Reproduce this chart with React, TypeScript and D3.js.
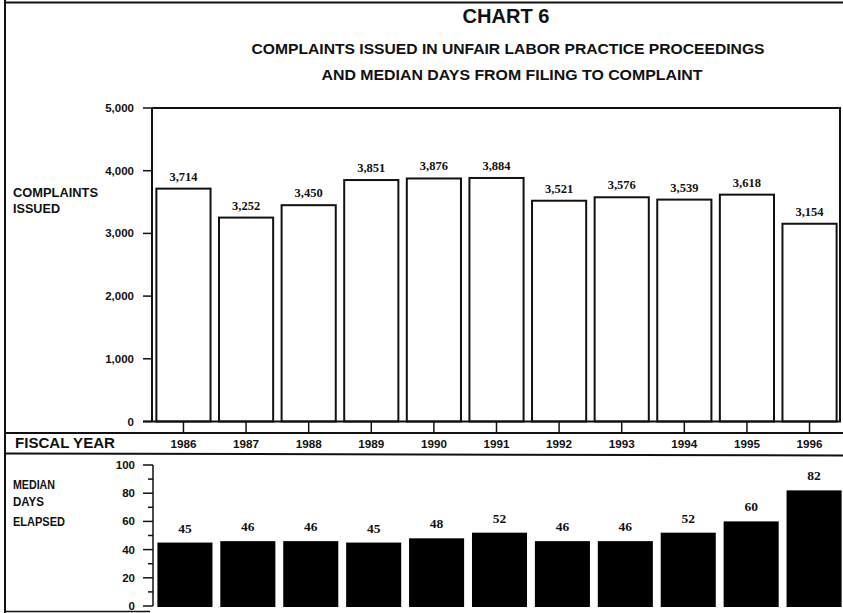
import React from "react";
import * as d3 from "d3";

const years = ["1986", "1987", "1988", "1989", "1990", "1991", "1992", "1993", "1994", "1995", "1996"];
const complaints = [3714, 3252, 3450, 3851, 3876, 3884, 3521, 3576, 3539, 3618, 3154];
const medianDays = [45, 46, 46, 45, 48, 52, 46, 46, 52, 60, 82];
const topTicks = [0, 1000, 2000, 3000, 4000, 5000];
const bottomTicks = [0, 20, 40, 60, 80, 100];
const bottomMinor = [10, 30, 50, 70, 90];

const W = 843;
const H = 613;
const SANS = "'Liberation Sans', Arial, sans-serif";
const SERIF = "'Liberation Serif', 'Times New Roman', serif";

export default function App() {
  const xTop = d3.scaleBand<string>().domain(years).range([152, 841]).paddingInner(0.135).paddingOuter(0.07);
  const yTop = d3.scaleLinear().domain([0, 5000]).range([421.5, 108]);
  const xBot = d3.scaleBand<string>().domain(years).range([153, 846]).paddingInner(0.125).paddingOuter(0.07);
  const yBot = d3.scaleLinear().domain([0, 100]).range([606, 465]);
  const fmt = d3.format(",");

  return (
    <div style={{ position: "absolute", left: 0, top: 0 }}>
      <svg width={W} height={H} style={{ display: "block", background: "#fff" }}>
        {/* outer frame lines */}
        <line x1={5} x2={W} y1={2.5} y2={2.5} stroke="#111" strokeWidth={2} />
        <line x1={5} x2={5} y1={0} y2={H} stroke="#111" strokeWidth={2} />

        {/* titles */}
        <text x={506} y={23} textAnchor="middle" fontFamily={SANS} fontWeight="bold" fontSize={20} fill="#111"
          textLength={87} lengthAdjust="spacingAndGlyphs">CHART 6</text>
        <text x={508} y={54} textAnchor="middle" fontFamily={SANS} fontWeight="bold" fontSize={15} fill="#111"
          textLength={513} lengthAdjust="spacingAndGlyphs">COMPLAINTS ISSUED IN UNFAIR LABOR PRACTICE PROCEEDINGS</text>
        <text x={512} y={80} textAnchor="middle" fontFamily={SANS} fontWeight="bold" fontSize={15} fill="#111"
          textLength={381} lengthAdjust="spacingAndGlyphs">AND MEDIAN DAYS FROM FILING TO COMPLAINT</text>

        {/* top panel */}
        <text x={13} y={197} fontFamily={SANS} fontWeight="bold" fontSize={12} fill="#111" textLength={85} lengthAdjust="spacingAndGlyphs">COMPLAINTS</text>
        <text x={13} y={213} fontFamily={SANS} fontWeight="bold" fontSize={12} fill="#111" textLength={47} lengthAdjust="spacingAndGlyphs">ISSUED</text>

        {complaints.map((v, i) => (
          <rect key={"tb" + i} x={xTop(years[i])} y={yTop(v)} width={xTop.bandwidth()} height={yTop(0) - yTop(v)}
            fill="#fff" stroke="#111" strokeWidth={2} />
        ))}
        {complaints.map((v, i) => (
          <text key={"tl" + i} x={(xTop(years[i]) as number) + xTop.bandwidth() / 2} y={yTop(v) - 8}
            textAnchor="middle" fontFamily={SERIF} fontWeight="bold" fontSize={12.5} fill="#111">{fmt(v)}</text>
        ))}

        {/* top frame */}
        <line x1={152} x2={841} y1={108} y2={108} stroke="#111" strokeWidth={2} />
        <line x1={840} x2={840} y1={108} y2={422} stroke="#111" strokeWidth={2} />
        <line x1={152} x2={152} y1={108} y2={422} stroke="#111" strokeWidth={2} />
        <line x1={143} x2={841} y1={yTop(0)} y2={yTop(0)} stroke="#111" strokeWidth={2} />
        {topTicks.map((t) => (
          <g key={"tt" + t}>
            <line x1={143} x2={152} y1={yTop(t)} y2={yTop(t)} stroke="#111" strokeWidth={1.5} />
            <text x={134} y={yTop(t) + 4} textAnchor="end" fontFamily={SANS} fontWeight="bold" fontSize={11.5} fill="#111">{fmt(t)}</text>
          </g>
        ))}

        {/* category ticks & fiscal year band */}
        {years.map((y) => (
          <line key={"ct" + y} x1={(xTop(y) as number) + xTop.bandwidth() / 2} x2={(xTop(y) as number) + xTop.bandwidth() / 2}
            y1={421.5} y2={433} stroke="#111" strokeWidth={1.5} />
        ))}
        <line x1={5} x2={W} y1={433} y2={433} stroke="#111" strokeWidth={2} />
        <text x={15} y={448} fontFamily={SANS} fontWeight="bold" fontSize={15} fill="#111" textLength={100} lengthAdjust="spacingAndGlyphs">FISCAL YEAR</text>
        {years.map((y) => (
          <text key={"yl" + y} x={(xTop(y) as number) + xTop.bandwidth() / 2} y={448} textAnchor="middle"
            fontFamily={SANS} fontWeight="bold" fontSize={11} fill="#111" textLength={26} lengthAdjust="spacingAndGlyphs">{y}</text>
        ))}
        <line x1={5} x2={W} y1={453.5} y2={455.5} stroke="#111" strokeWidth={2} />

        {/* bottom panel */}
        <text x={13} y={489} fontFamily={SANS} fontWeight="bold" fontSize={12} fill="#111" textLength={42} lengthAdjust="spacingAndGlyphs">MEDIAN</text>
        <text x={13} y={506} fontFamily={SANS} fontWeight="bold" fontSize={12} fill="#111" textLength={31} lengthAdjust="spacingAndGlyphs">DAYS</text>
        <text x={13} y={526} fontFamily={SANS} fontWeight="bold" fontSize={12} fill="#111" textLength={52} lengthAdjust="spacingAndGlyphs">ELAPSED</text>

        <line x1={153} x2={153} y1={yBot(100)} y2={yBot(0)} stroke="#111" strokeWidth={1.5} />
        {bottomTicks.map((t) => (
          <g key={"bt" + t}>
            <line x1={143} x2={153} y1={yBot(t)} y2={yBot(t)} stroke="#111" strokeWidth={1.5} />
            <text x={135} y={yBot(t) + 4} textAnchor="end" fontFamily={SANS} fontWeight="bold" fontSize={11.5} fill="#111">{t}</text>
          </g>
        ))}
        {bottomMinor.map((t) => (
          <line key={"bm" + t} x1={148} x2={153} y1={yBot(t)} y2={yBot(t)} stroke="#111" strokeWidth={1.5} />
        ))}

        {medianDays.map((v, i) => (
          <rect key={"bb" + i} x={xBot(years[i])} y={yBot(v)} width={xBot.bandwidth()} height={yBot(0) - yBot(v) + 1}
            fill="#000" />
        ))}
        {medianDays.map((v, i) => (
          <text key={"bl" + i} x={(xBot(years[i]) as number) + xBot.bandwidth() / 2} y={yBot(v) - 10}
            textAnchor="middle" fontFamily={SERIF} fontWeight="bold" fontSize={13.5} fill="#111">{v}</text>
        ))}
        <line x1={5} x2={150} y1={611.5} y2={611.5} stroke="#111" strokeWidth={1.5} />
      </svg>
    </div>
  );
}
